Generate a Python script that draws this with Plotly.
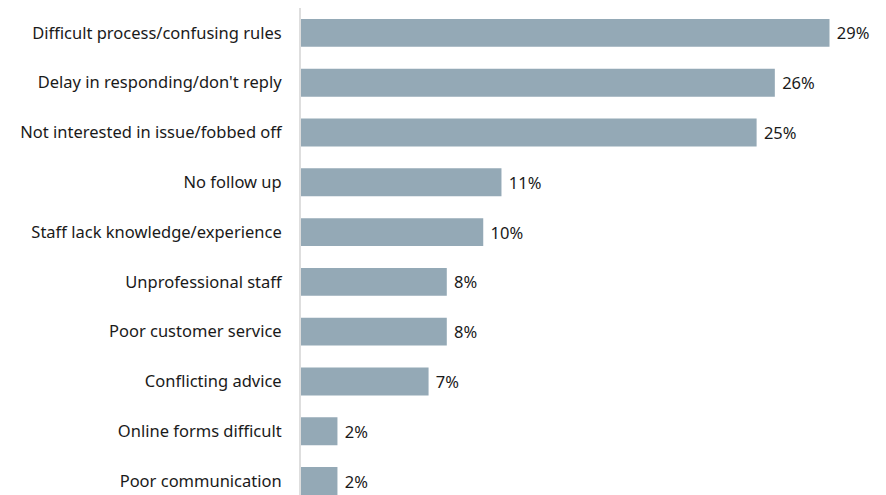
import plotly.graph_objects as go

# Reasons given for a poor experience (share of respondents, %)
categories = [
    "Difficult process/confusing rules",
    "Delay in responding/don't reply",
    "Not interested in issue/fobbed off",
    "No follow up",
    "Staff lack knowledge/experience",
    "Unprofessional staff",
    "Poor customer service",
    "Conflicting advice",
    "Online forms difficult",
    "Poor communication",
]
values = [29, 26, 25, 11, 10, 8, 8, 7, 2, 2]

bar_color = "#94a9b6"
text_color = "#1a1a1a"
font_family = "'Noto Sans', 'Source Sans Pro', sans-serif"
font_size = 16.5

fig = go.Figure(
    go.Bar(
        x=values,
        y=categories,
        orientation="h",
        marker=dict(color=bar_color, line=dict(width=0)),
        texttemplate="\u00a0%{x}%",
        textposition="outside",
        textfont=dict(size=font_size, color=text_color, family=font_family),
        cliponaxis=False,
        hoverinfo="skip",
    )
)

fig.update_layout(
    width=886,
    height=495,
    margin=dict(l=301, r=0, t=8, b=0),
    paper_bgcolor="white",
    plot_bgcolor="white",
    bargap=0.44,
    showlegend=False,
    font=dict(family=font_family, size=font_size, color=text_color),
)

fig.update_xaxes(
    range=[0, 32.1],
    visible=False,
    showgrid=False,
    zeroline=False,
)

fig.update_yaxes(
    categoryorder="array",
    categoryarray=categories,
    range=[9.28, -0.5],
    showgrid=False,
    zeroline=False,
    showline=True,
    linecolor="#dedede",
    linewidth=2,
    ticks="",
    ticklabelstandoff=14,
    tickfont=dict(size=font_size, color=text_color, family=font_family),
)

fig.write_html("out.html")
